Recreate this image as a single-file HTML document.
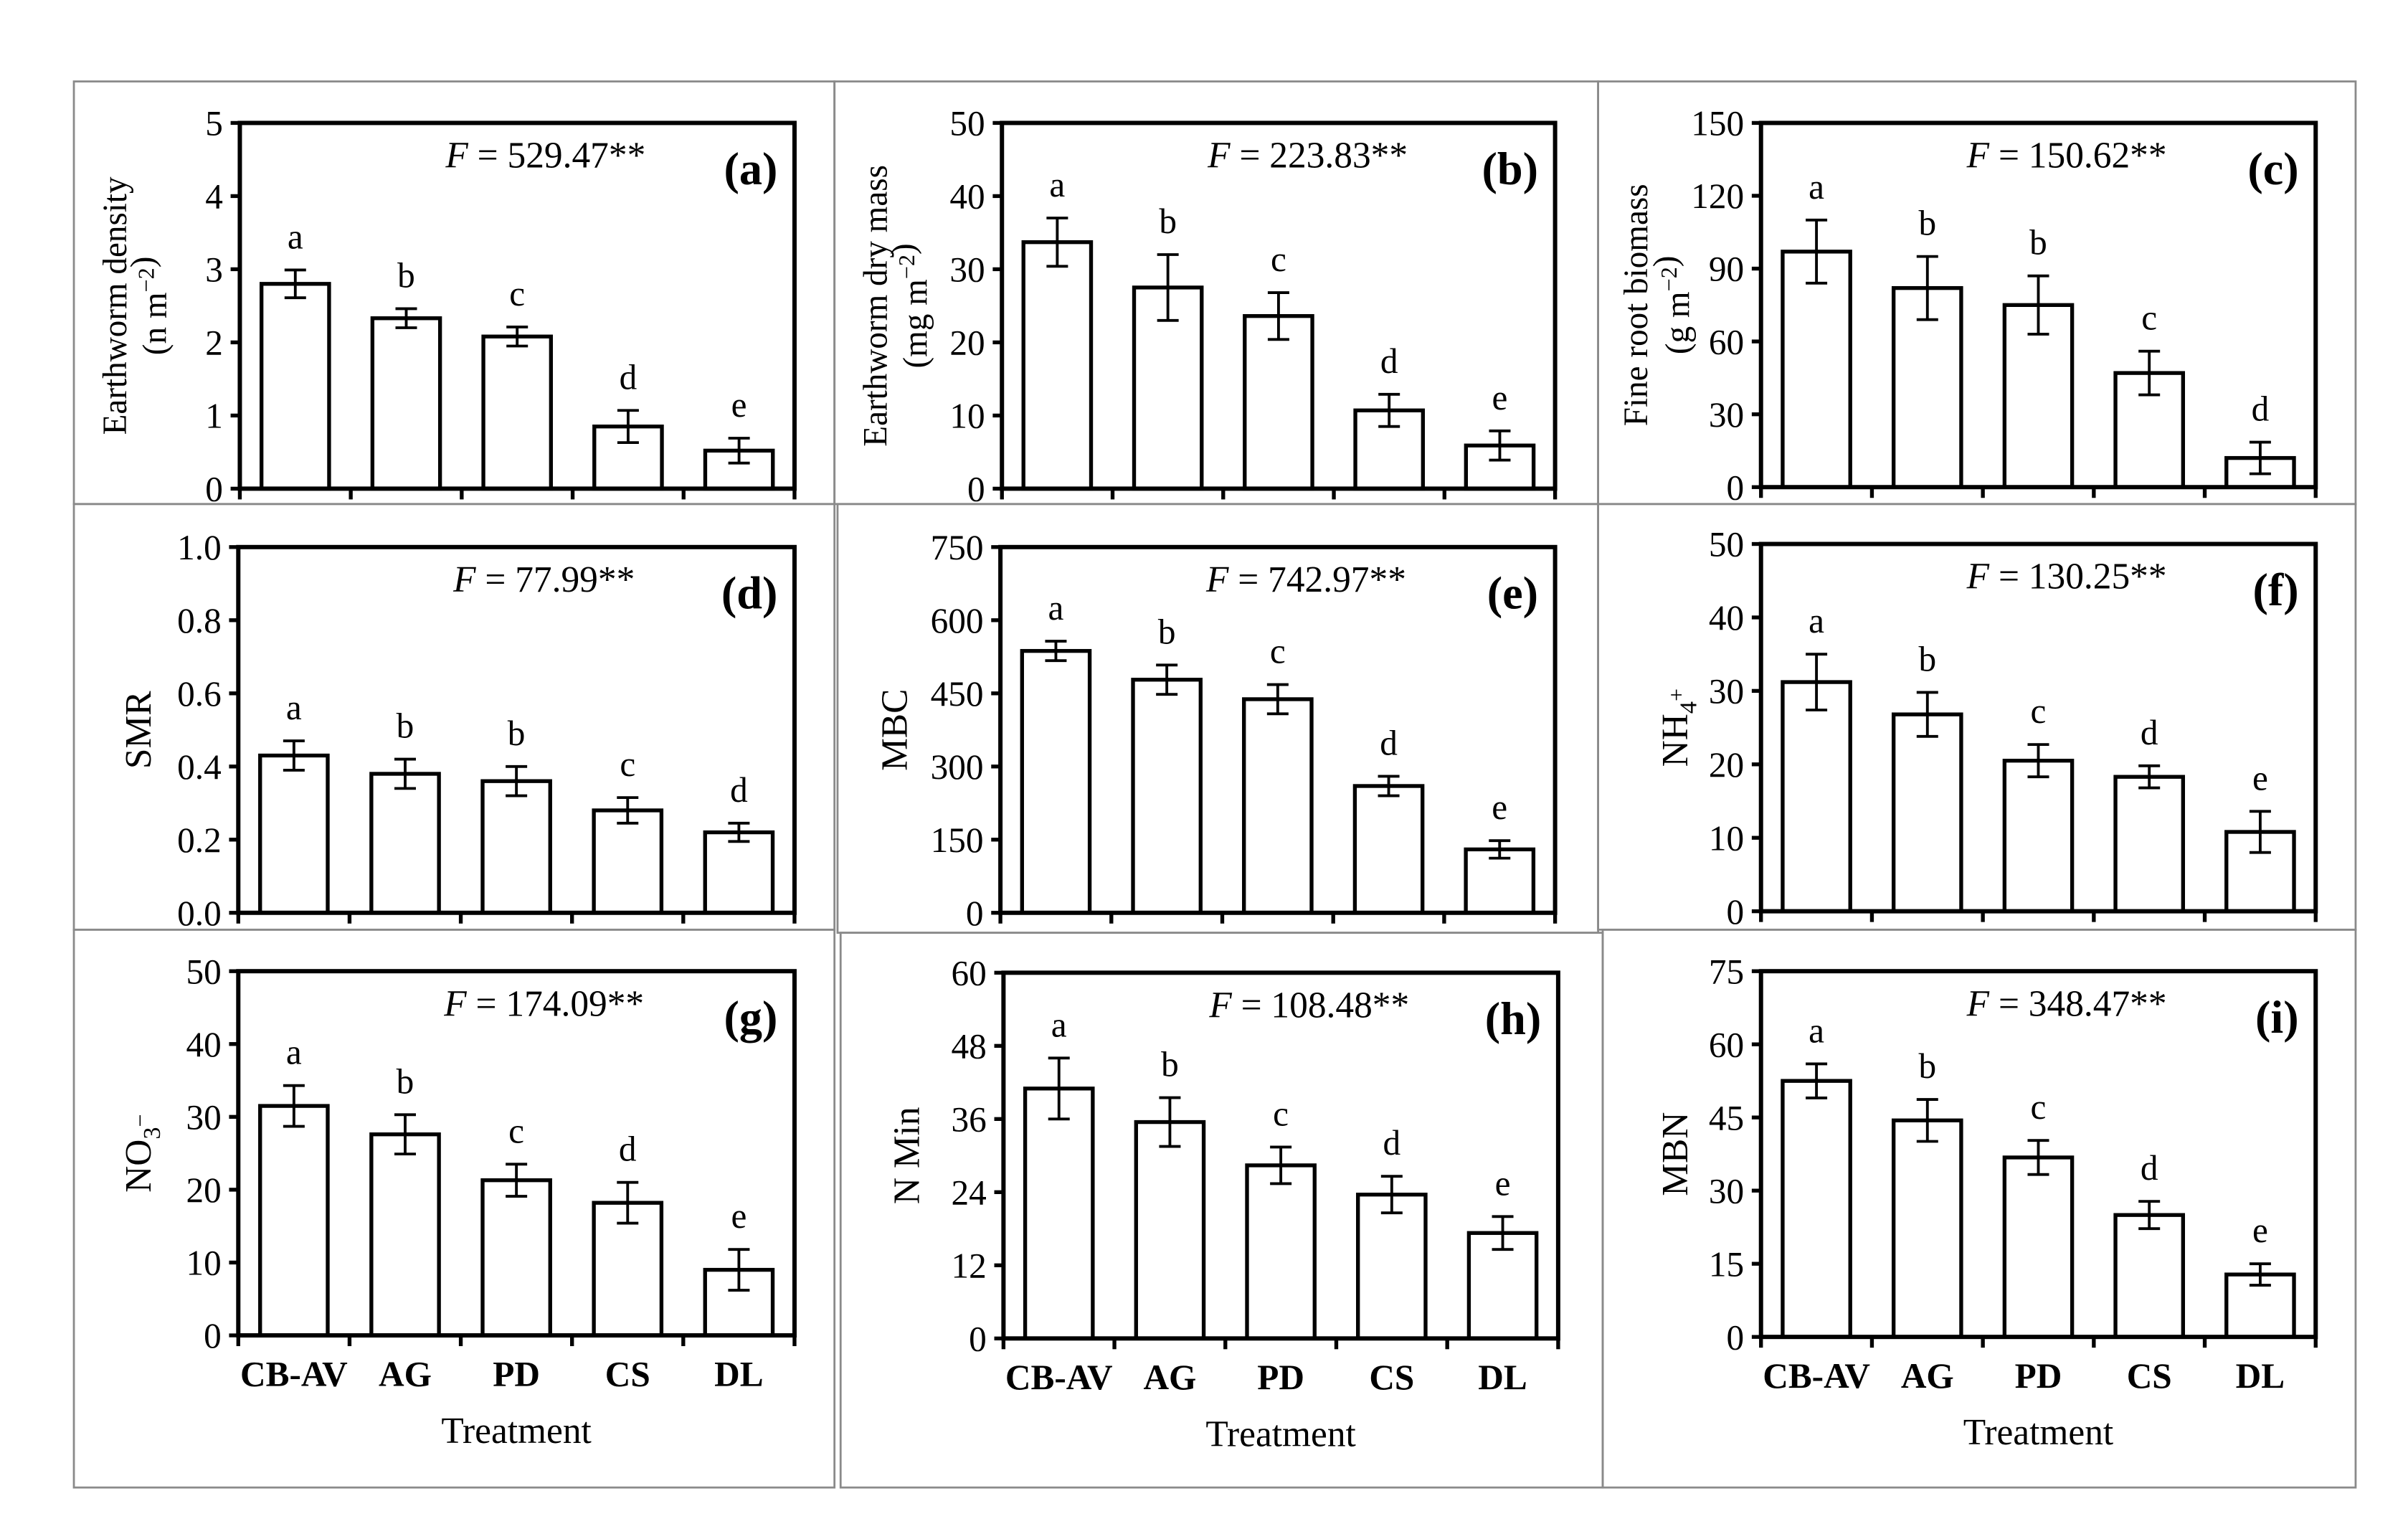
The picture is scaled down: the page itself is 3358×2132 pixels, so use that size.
<!DOCTYPE html>
<html><head><meta charset="utf-8"><style>
html,body{margin:0;padding:0;background:#fff;}
svg{display:block;font-family:"Liberation Serif","DejaVu Serif",serif;}
</style></head><body>
<svg id="fig" width="3358" height="2132" viewBox="0 0 1567 995" xmlns="http://www.w3.org/2000/svg"></svg>
<script>
const categories=["CB-AV","AG","PD","CS","DL"];
const valsA=[2.8,2.33,2.08,0.85,0.52], errA=[0.19,0.13,0.13,0.22,0.17], letA=["a","b","c","d","e"], ticksA=[0,1,2,3,4,5];
const valsB=[33.7,27.5,23.6,10.7,5.9], errB=[3.3,4.5,3.2,2.2,2.0], letB=["a","b","c","d","e"], ticksB=[0,10,20,30,40,50];
const valsC=[97,82,75,47,12], errC=[13,13,12,9,6.5], letC=["a","b","b","c","d"], ticksC=[0,30,60,90,120,150];
const valsD=[0.43,0.38,0.36,0.28,0.22], errD=[0.04,0.04,0.04,0.035,0.025], letD=["a","b","b","c","d"], ticksD=["0.0","0.2","0.4","0.6","0.8","1.0"];
const valsE=[537,478,438,260,130], errE=[20,30,30,20,18], letE=["a","b","c","d","e"], ticksE=[0,150,300,450,600,750];
const valsF=[31.2,26.8,20.5,18.3,10.8], errF=[3.8,3.0,2.2,1.5,2.8], letF=["a","b","c","d","e"], ticksF=[0,10,20,30,40,50];
const valsG=[31.5,27.6,21.3,18.2,9.0], errG=[2.8,2.7,2.2,2.8,2.8], letG=["a","b","c","d","e"], ticksG=[0,10,20,30,40,50];
const valsH=[41,35.5,28.4,23.6,17.3], errH=[5,4,3,3,2.7], letH=["a","b","c","d","e"], ticksH=[0,12,24,36,48,60];
const valsI=[52.5,44.4,36.8,25,12.8], errI=[3.5,4.3,3.5,2.8,2.2], letI=["a","b","c","d","e"], ticksI=[0,15,30,45,60,75];
const fStats=["529.47","223.83","150.62","77.99","742.97","130.25","174.09","108.48","348.47"];

const NS="http://www.w3.org/2000/svg";
const svg=document.getElementById('fig');
function mk(tag,attrs,parent,text){const e=document.createElementNS(NS,tag);for(const k in attrs)e.setAttribute(k,attrs[k]);if(text!==undefined)e.textContent=text;(parent||svg).appendChild(e);return e;}

const frames=[[48,53,495,275],[543,53,497,275],[1040,53,493,275],[48,328,495,277],[545,328,495,279],[1040,328,493,277],[48,605,495,363],[547,607,496,361],[1043,605,490,363]];
const panels=[
 {k:"a",L:156,R:517,T:80,B:318,v:valsA,e:errA,l:letA,t:ticksA,title:["Earthworm density","(n m<sup>−2</sup>)"],tx:[74,100]},
 {k:"b",L:652,R:1012,T:80,B:318,v:valsB,e:errB,l:letB,t:ticksB,title:["Earthworm dry mass","(mg m<sup>−2</sup>)"],tx:[569,595]},
 {k:"c",L:1146,R:1507,T:80,B:317,v:valsC,e:errC,l:letC,t:ticksC,title:["Fine root biomass","(g m<sup>−2</sup>)"],tx:[1064,1091]},
 {k:"d",L:155,R:517,T:356,B:594,v:valsD,e:errD,l:letD,t:ticksD,title:["SMR"],tx:[90]},
 {k:"e",L:651,R:1012,T:356,B:594,v:valsE,e:errE,l:letE,t:ticksE,title:["MBC"],tx:[582]},
 {k:"f",L:1146,R:1507,T:354,B:593,v:valsF,e:errF,l:letF,t:ticksF,title:["NH<sub>4</sub><sup>+</sup>"],tx:[1090]},
 {k:"g",L:155,R:517,T:632,B:869,v:valsG,e:errG,l:letG,t:ticksG,title:["NO<sub>3</sub><sup>−</sup>"],tx:[90]},
 {k:"h",L:653,R:1014,T:633,B:871,v:valsH,e:errH,l:letH,t:ticksH,title:["N Min"],tx:[590]},
 {k:"i",L:1146,R:1507,T:632,B:870,v:valsI,e:errI,l:letI,t:ticksI,title:["MBN"],tx:[1090]}
];
panels.forEach((p,pi)=>{
 const f=frames[pi];
 const g=mk('g',{});
 
 
 const fr=mk('rect',{x:f[0],y:f[1],width:f[2],height:f[3],fill:'none',stroke:'#8a8a8a','stroke-width':1.3},g);
 
 
 const max=parseFloat(p.t[p.t.length-1]);
 const y=v=>p.B-(v/max)*(p.B-p.T);
 const bw=(p.R-p.L)/categories.length;
 const x=i=>p.L+(i+0.5)*bw;
 p.t.forEach(tv=>{
  const yy=y(parseFloat(tv));
  mk('line',{x1:p.L-6,x2:p.L,y1:yy,y2:yy,stroke:'#000','stroke-width':2.5},g);
  const tl=mk('text',{x:p.L-11,y:yy+8,'text-anchor':'end','font-size':23},g,String(tv));
  
  
 });
 for(let i=0;i<=categories.length;i++){
  const xx=p.L+i*bw;
  mk('line',{x1:xx,x2:xx,y1:p.B,y2:p.B+7,stroke:'#000','stroke-width':2.5},g);
 }
 p.v.forEach((v,i)=>{
  const b=mk('rect',{x:x(i)-22,y:y(v),width:44,height:p.B-y(v),fill:'#fff',stroke:'#000','stroke-width':2.5},g);
  
  
  const e=p.e[i];
  const eb=mk('path',{d:`M${x(i)},${y(v+e)}V${y(v-e)}M${x(i)-7},${y(v+e)}H${x(i)+7}M${x(i)-7},${y(v-e)}H${x(i)+7}`,stroke:'#000','stroke-width':1.8,fill:'none'},g);
  
  
  const lt=mk('text',{x:x(i),y:y(v+e)-14,'text-anchor':'middle','font-size':23},g,p.l[i]);
  
  
 });
 const ax=mk('rect',{x:p.L,y:p.T,width:p.R-p.L,height:p.B-p.T,fill:'none',stroke:'#000','stroke-width':2.8},g);
 
 
 const ft=mk('text',{x:p.L+199,y:p.T+29,'text-anchor':'middle','font-size':24},g);
 ft.innerHTML='<tspan font-style="italic">F</tspan> = '+fStats[pi]+'**';
 
 
 const pl=mk('text',{x:p.R-11,y:p.T+40,'text-anchor':'end','font-size':30,'font-weight':'bold'},g,'('+p.k+')');
 
 
 const cy=(p.T+p.B)/2;
 const fs=p.title.length>1?22:24;
 p.title.forEach((tt,j)=>{
  const t=mk('text',{x:0,y:0,'text-anchor':'middle','font-size':fs,transform:`translate(${p.tx[j]+8},${cy}) rotate(-90)`},g);
  t.innerHTML=tt.replace(/<sup>(.*?)<\/sup>/g,'<tspan dy="-8" font-size="15">$1</tspan><tspan dy="8"></tspan>').replace(/<sub>(.*?)<\/sub>/g,'<tspan dy="6" font-size="16">$1</tspan><tspan dy="-6"></tspan>');
  
  
 });
 if(pi>=6){
  categories.forEach((c,i)=>{
   const cl=mk('text',{x:x(i),y:p.B+33,'text-anchor':'middle','font-size':23,'font-weight':'bold'},g,c);
   
   
  });
  const xt=mk('text',{x:(p.L+p.R)/2,y:p.B+70,'text-anchor':'middle','font-size':24},g,'Treatment');
  
  
 }
});
</script>
</body></html>
